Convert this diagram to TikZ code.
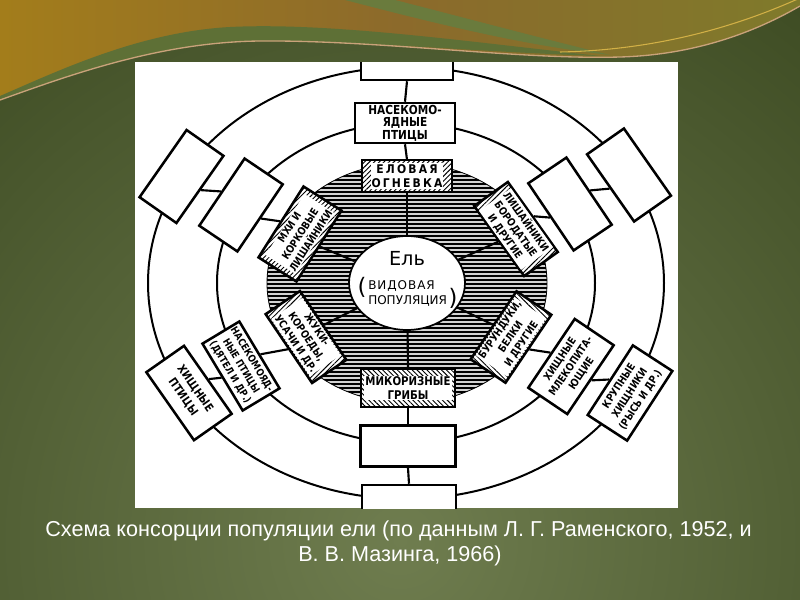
\documentclass[tikz,border=0pt]{standalone}
\usepackage{fontspec}
\setmainfont{DejaVu Sans}
\newfontfamily\capfont{Liberation Sans}
\newfontfamily\lbl[FakeStretch=0.85]{DejaVu Sans}
\newfontfamily\elofnt[FakeStretch=0.9,LetterSpace=18]{DejaVu Sans}
\newfontfamily\elfnt{DejaVu Sans}
\usetikzlibrary{shapes.geometric,patterns.meta}
\definecolor{bgIn}{HTML}{6F7D4F}
\definecolor{bgOut}{HTML}{2E3C15}
\definecolor{goldL}{HTML}{A37D1B}
\definecolor{goldM}{HTML}{8C6A2B}
\definecolor{goldR}{HTML}{7F7A2B}
\definecolor{bandG}{HTML}{5E7036}
\definecolor{bandGB}{HTML}{6A7B3D}
\definecolor{pinkline}{HTML}{C9A27A}
\definecolor{goldline}{HTML}{D2B046}
\definecolor{ringgray}{HTML}{9A9A9A}
\begin{document}
\begin{tikzpicture}[x=0.75pt,y=-0.75pt,
  box/.style={draw=black,line width=1.9pt,fill=white,inner sep=0pt,align=center,
    font=\lbl\bfseries\fontsize{7.9}{9.6}\selectfont},
  hbox/.style={draw=black,line width=1.9pt,inner sep=0pt,preaction={fill=white},
    pattern={Lines[angle=45,distance=2.6pt,line width=0.7pt]}},
  htxt/.style={fill=white,inner sep=0.8pt,align=center,
    font=\lbl\bfseries\fontsize{7.9}{9.6}\selectfont},
  conn/.style={line width=1.6pt},
  orbit/.style={line width=1.5pt}]
\useasboundingbox (0,0) rectangle (800,600);
% background
\begin{scope}
\clip (0,0) rectangle (800,600);
\shade[inner color=bgIn, outer color=bgOut] (400,540) circle (900);
\shade[left color=goldL, right color=goldR, middle color=goldM]
  (0,0) -- (800,0) -- (800,6) .. controls (750,35) and (690,55) .. (620,57)
  .. controls (520,60) and (380,40) .. (260,41)
  .. controls (160,42) and (70,75) .. (0,100) -- cycle;
\fill[bandG] (0,96) .. controls (60,70) and (140,32) .. (230,27)
  .. controls (330,22) and (470,42) .. (600,56)
  .. controls (480,52) and (360,41) .. (260,41)
  .. controls (160,42) and (70,75) .. (0,100) -- cycle;
\fill[bandGB] (345,0) .. controls (430,22) and (520,45) .. (610,55)
  .. controls (540,38) and (450,14) .. (395,0) -- cycle;
\draw[pinkline, line width=1pt] (0,100) .. controls (70,75) and (160,42) .. (260,41)
  .. controls (380,40) and (520,60) .. (620,57) .. controls (690,55) and (750,35) .. (800,6);
\draw[goldline, line width=0.8pt] (560,52) .. controls (660,50) and (740,25) .. (800,-2);
\end{scope}
% white picture
\fill[white] (135,62) rectangle (678,508);
\begin{scope}
\clip (135,62) rectangle (678,508);
% orbits
\draw[orbit] (406,283) ellipse [x radius=258, y radius=216];
\draw[orbit] (406,283) ellipse [x radius=189, y radius=160];
% hatched ring
\draw[line width=0.6pt, preaction={fill=ringgray!45},
  pattern={Lines[angle=0,distance=3pt,line width=1.2pt]}]
  (407,283) ellipse [x radius=140, y radius=120];
% inner circle
\node[ellipse, draw=black, line width=1.3pt, fill=white, inner sep=0pt,
  minimum width=87pt, minimum height=70.5pt] (el) at (407,283) {};
\node[font=\elfnt\fontsize{14.5}{14.5}\selectfont, inner sep=0pt] (elA) at (407,258) {Ель};
\node[font=\elfnt\addfontfeature{LetterSpace=8}\fontsize{9}{9}\selectfont, inner sep=0pt, anchor=west] (elB) at (368,286) {ВИДОВАЯ};
\node[font=\elfnt\fontsize{9}{9}\selectfont, inner sep=0pt, anchor=west] (elC) at (368,301) {ПОПУЛЯЦИЯ};
\node[font=\elfnt\fontsize{17}{17}\selectfont, inner sep=0pt] (elD) at (362,287) {(};
\node[font=\elfnt\fontsize{17}{17}\selectfont, inner sep=0pt] (elE) at (453,298) {)};
% vertical chain
\node[box, minimum width=69pt, minimum height=30pt] (tb) at (407,60) {};
\node[box, minimum width=75pt, minimum height=30pt, font=\lbl\bfseries\fontsize{9.3}{9.4}\selectfont] (nasek) at (405,123) {НАСЕКОМО-\\ЯДНЫЕ\\ПТИЦЫ};
\node[hbox, minimum width=67.5pt, minimum height=24pt] (elo) at (407,176) {};
\node[htxt, font=\elofnt\bfseries\fontsize{9}{10.8}\selectfont] (eloT) at (elo) {ЕЛОВАЯ\\ОГНЕВКА};
\node[hbox, minimum width=70.5pt, minimum height=28.5pt,
  pattern={Lines[angle=-45,distance=2.6pt,line width=0.7pt]}] (mik) at (408,388) {};
\node[htxt, font=\lbl\bfseries\fontsize{9}{10}\selectfont] (mikT) at (mik) {МИКОРИЗНЫЕ\\ГРИБЫ};
\node[box, minimum width=71.25pt, minimum height=30.75pt] (e8) at (408,446) {};
\node[box, minimum width=70.5pt, minimum height=30pt] (bot) at (409,505) {};
% inner hatched boxes
\node[hbox, rotate=57.6, minimum width=63pt, minimum height=33.75pt] (mhi) at (300,234) {};
\node[htxt, rotate=57.6] (mhiT) at (mhi) {МХИ И\\КОРКОВЫЕ\\ЛИШАЙНИКИ};
\node[hbox, rotate=-54.5, minimum width=64.5pt, minimum height=31pt] (lish) at (516,229) {};
\node[htxt, rotate=-54.5] (lishT) at (lish) {ЛИШАЙНИКИ\\БОРОДАТЫЕ\\И ДРУГИЕ};
\node[hbox, rotate=-56, minimum width=62.25pt, minimum height=31pt] (zhuk) at (306,337) {};
\node[htxt, rotate=-56] (zhukT) at (zhuk) {ЖУКИ-\\КОРОЕДЫ,\\УСАЧИ И ДР.};
\node[hbox, rotate=56, minimum width=61.5pt, minimum height=31.5pt,
  pattern={Lines[angle=-45,distance=2.6pt,line width=0.7pt]}] (bur) at (511,337) {};
\node[htxt, rotate=56] (burT) at (bur) {БУРУНДУКИ,\\БЕЛКИ\\И ДРУГИЕ};
% outer boxes
\node[box, rotate=55, minimum width=61.5pt, minimum height=33.75pt] (bA) at (181.5,176.5) {};
\node[box, rotate=56, minimum width=60.75pt, minimum height=34.5pt] (bB) at (241,205) {};
\node[box, rotate=-55, minimum width=61.5pt, minimum height=33.75pt] (bC) at (629,175) {};
\node[box, rotate=-56, minimum width=60.75pt, minimum height=34.5pt] (bD) at (570,204) {};
\node[box, rotate=-59, minimum width=58.5pt, minimum height=32.25pt, font=\lbl\bfseries\fontsize{7.5}{9.4}\selectfont] (bE) at (241,366) {НАСЕКОМОЯД-\\НЫЕ ПТИЦЫ\\(ДЯТЕЛ И ДР.)};
\node[box, rotate=-55, minimum width=62.25pt, minimum height=34.5pt, font=\lbl\bfseries\fontsize{8.6}{11}\selectfont] (bF) at (189,393) {ХИЩНЫЕ\\ПТИЦЫ};
\node[box, rotate=56, minimum width=62.25pt, minimum height=35.25pt] (bG) at (571,366.5) {ХИЩНЫЕ\\МЛЕКОПИТА-\\ЮЩИЕ};
\node[box, rotate=57, minimum width=62.25pt, minimum height=35.25pt] (bH) at (630,393) {КРУПНЫЕ\\ХИЩНИКИ\\(РЫСЬ И ДР.)};
% connectors
\draw[conn] (tb.south) -- (nasek.north);
\draw[conn] (nasek.south) -- (elo.north);
\draw[conn] (elo.south) -- (el);
\draw[conn] (mik.north) -- (el);
\draw[conn] (mik.south) -- (e8.north);
\draw[conn] (e8.south) -- (bot.north);
\draw[conn] (bA.south) -- (bB.north);
\draw[conn] (bB.south) -- (mhi.north);
\draw[conn] (mhi.south) -- (el);
\draw[conn] (bC.south) -- (bD.north);
\draw[conn] (bD.south) -- (lish.north);
\draw[conn] (lish.south) -- (el);
\draw[conn] (bF.north) -- (bE.south);
\draw[conn] (bE.north) -- (zhuk.south);
\draw[conn] (zhuk.north) -- (el);
\draw[conn] (bH.north) -- (bG.south);
\draw[conn] (bG.north) -- (bur.south);
\draw[conn] (bur.north) -- (el);
\end{scope}
% caption
\node[text=white, font=\capfont\fontsize{16.2}{18}\selectfont, inner sep=0pt] (cap1) at (398.5,531) {Схема консорции популяции ели (по данным Л. Г. Раменского, 1952, и};
\node[text=white, font=\capfont\fontsize{16.2}{18}\selectfont, inner sep=0pt] (cap2) at (400,556) {В. В. Мазинга, 1966)};
\end{tikzpicture}
\end{document}
